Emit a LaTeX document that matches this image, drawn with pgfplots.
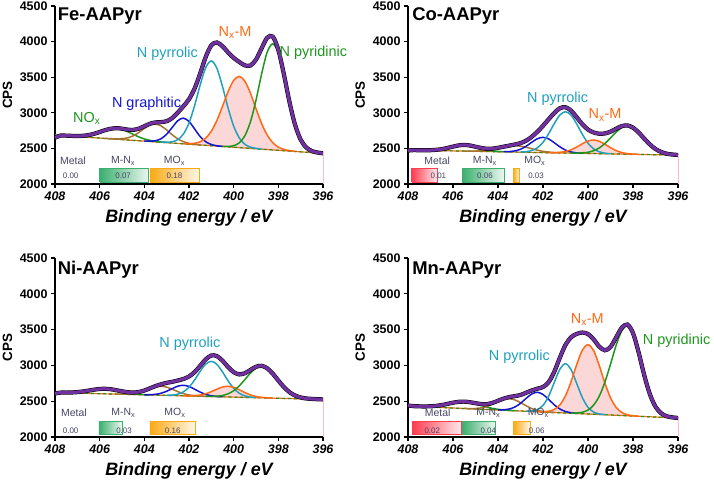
\documentclass[border=0pt]{standalone}
\usepackage{pgfplots}
\pgfplotsset{compat=1.18}
\usepackage{fontspec}
\setmainfont{Liberation Sans}
\newcommand\fs[1]{\fontsize{#1}{#1}\selectfont}
\definecolor{cpurple}{RGB}{112,48,160}
\definecolor{ccyan}{RGB}{30,160,190}
\definecolor{corange}{RGB}{255,105,20}
\definecolor{cgreen}{RGB}{30,150,30}
\definecolor{cblue}{RGB}{20,20,210}
\definecolor{cbrown}{RGB}{165,115,50}
\definecolor{cpink}{RGB}{252,215,215}
\definecolor{cedge}{RGB}{250,190,200}
\definecolor{cgrey}{RGB}{70,70,100}
\definecolor{bred}{RGB}{255,60,80}
\definecolor{bgreen}{RGB}{60,175,110}
\definecolor{borange}{RGB}{250,170,20}
\pgfplotsset{
  panel/.style={
    scale only axis, x dir=reverse,
    xmin=396, xmax=408, ymin=2000, ymax=4500,
    xtick={396,398,400,402,404,406,408},
    ytick={2000,2500,3000,3500,4000,4500},
    axis x line*=bottom, axis y line*=left,
    tick align=outside, major tick length=4bp,
    axis line style={line width=1.5bp},
    every tick/.style={line width=1.3bp, black},
    /pgf/number format/assume math mode=true,
    /pgf/number format/1000 sep={},
    xticklabel style={font=\fs{12.5}\bfseries\itshape},
    yticklabel style={font=\fs{12.5}\bfseries},
    xlabel={Binding energy / eV}, ylabel={CPS},
    every axis x label/.style={at={(axis description cs:0.5,0)}, anchor=center, yshift=-34bp, font=\fs{18}\bfseries\itshape},
    every axis y label/.style={at={(axis description cs:-0.177,0.5)}, anchor=center, rotate=90, font=\fs{13.5}\bfseries},
    clip=false,
  },
  comp/.style={smooth, line width=1.5bp},
  env/.style={smooth, cpurple, line width=3.2bp, preaction={draw, black, line width=4.2bp}},
  base1/.style={corange, line width=1.2bp},
  base2/.style={cgreen, line width=1.2bp, dashed},
}
\tikzset{
  ttl/.style={font=\fs{18.5}\bfseries, anchor=base west, inner sep=0pt},
  lab/.style={font=\fs{14.5}},
  inl/.style={font=\fs{10.5}, text=cgrey},
  inv/.style={font=\fs{8}, text=cgrey},
}
\begin{document}
\begin{tikzpicture}
%================ Fe =================
\begin{axis}[panel, width=268bp, height=178bp, at={(55bp,296bp)}, anchor=south west]
\draw[cedge, line width=0.8bp] (axis cs:396,2000) -- (axis cs:396,2420);
\addplot[fill=cpink, draw=none] coordinates {(402.25,2567)(402,2566)(401.75,2572)(401.5,2593)(401.25,2645)(401,2742)(400.75,2893)(400.5,3091)(400.25,3297)(400,3455)(399.75,3512)(399.5,3444)(399.25,3276)(399,3059)(398.75,2850)(398.5,2688)(398.25,2580)(398,2518)(397.75,2486)(397.5,2469)(397.25,2460)};
\addplot[base1] coordinates {(408,2688)(396,2430)};
\addplot[base2] coordinates {(408,2688)(396,2430)};
\addplot[comp, cgreen] coordinates {(407.75,2683)(407.5,2679)(407.25,2676)(407,2674)(406.75,2677)(406.5,2687)(406.25,2705)(406,2730)(405.75,2757)(405.5,2776)(405.25,2780)(405,2766)(404.75,2735)(404.5,2698)(404.25,2662)(404,2633)(403.75,2613)(403.5,2599)(403.25,2590)(403,2583)};
\addplot[comp, cbrown] coordinates {(405.75,2641)(405.5,2636)(405.25,2634)(405,2636)(404.75,2648)(404.5,2676)(404.25,2723)(404,2780)(403.75,2827)(403.5,2842)(403.25,2816)(403,2759)(402.75,2691)(402.5,2633)(402.25,2594)(402,2571)(401.75,2559)(401.5,2550)};
\addplot[comp, cblue] coordinates {(404,2604)(403.75,2602)(403.5,2608)(403.25,2636)(403,2699)(402.75,2795)(402.5,2889)(402.25,2925)(402,2878)(401.75,2774)(401.5,2666)(401.25,2593)(401,2555)(400.75,2537)(400.5,2529)};
\addplot[comp, ccyan] coordinates {(403.25,2588)(403,2587)(402.75,2593)(402.5,2623)(402.25,2701)(402,2856)(401.75,3100)(401.5,3390)(401.25,3635)(401,3729)(400.75,3624)(400.5,3369)(400.25,3067)(400,2813)(399.75,2648)(399.5,2558)(399.25,2518)(399,2501)(398.75,2491)};
\addplot[comp, corange] coordinates {(402.25,2567)(402,2566)(401.75,2572)(401.5,2593)(401.25,2645)(401,2742)(400.75,2893)(400.5,3091)(400.25,3297)(400,3455)(399.75,3512)(399.5,3444)(399.25,3276)(399,3059)(398.75,2850)(398.5,2688)(398.25,2580)(398,2518)(397.75,2486)(397.5,2469)(397.25,2460)};
\addplot[comp, cgreen] coordinates {(400.5,2528)(400.25,2528)(400,2538)(399.75,2578)(399.5,2676)(399.25,2872)(399,3178)(398.75,3543)(398.5,3851)(398.25,3969)(398,3840)(397.75,3522)(397.5,3145)(397.25,2829)(397,2623)(396.75,2513)(396.5,2463)(396.25,2442)(396,2431)};
\addplot[env] coordinates {(408,2650)(407.75,2680)(407.5,2679)(407.25,2676)(407,2674)(406.75,2677)(406.5,2687)(406.25,2705)(406,2730)(405.75,2757)(405.5,2776)(405.25,2784)(405,2777)(404.75,2764)(404.5,2760)(404.25,2777)(404,2811)(403.75,2846)(403.5,2865)(403.25,2869)(403,2882)(402.75,2927)(402.5,3004)(402.25,3092)(402,3191)(401.75,3340)(401.5,3552)(401.25,3785)(401,3948)(400.75,3988)(400.5,3934)(400.25,3848)(400,3772)(399.75,3714)(399.5,3666)(399.25,3664)(399,3746)(398.75,3904)(398.5,4054)(398.25,4070)(398,3884)(397.75,3539)(397.5,3151)(397.25,2831)(397,2623)(396.75,2513)(396.5,2463)(396.25,2442)(396,2431)};
% inset
\addplot[draw=bgreen, line width=0.6bp, left color=bgreen, right color=bgreen!10] coordinates {(406,2030)(403.8,2030)(403.8,2220)(406,2220)(406,2030)};
\addplot[draw=borange, line width=0.6bp, left color=borange, right color=borange!10] coordinates {(403.75,2030)(401.55,2030)(401.55,2220)(403.75,2220)(403.75,2030)};
\node[inl] at (axis cs:407.2,2323) {Metal};
\node[inl] at (axis cs:404.95,2323) {M-N\textsubscript{x}};
\node[inl] at (axis cs:402.65,2323) {MO\textsubscript{x}};
\node[inv] at (axis cs:407.3,2112) {0.00};
\node[inv] at (axis cs:404.95,2112) {0.07};
\node[inv] at (axis cs:402.65,2112) {0.18};
\node[ttl] at (axis cs:407.88,4290) {Fe-AAPyr};
\node[lab, text=ccyan] at (axis cs:402.97,3835) {N pyrrolic};
\node[lab, text=corange] at (axis cs:399.94,4130) {N\textsubscript{x}-M};
\node[lab, text=cgreen, anchor=west, inner sep=0pt] at (axis cs:397.95,3845) {N pyridinic};
\node[lab, text=cblue] at (axis cs:403.9,3133) {N graphitic};
\node[lab, text=cgreen] at (axis cs:406.58,2922) {NO\textsubscript{x}};
\end{axis}
%================ Co =================
\begin{axis}[panel, width=270bp, height=178bp, at={(408bp,296bp)}, anchor=south west]
\draw[cedge, line width=0.8bp] (axis cs:396,2000) -- (axis cs:396,2400);
\addplot[fill=cpink, draw=none] coordinates {(401.75,2441)(401.5,2441)(401.25,2445)(401,2457)(400.75,2481)(400.5,2519)(400.25,2565)(400,2603)(399.75,2618)(399.5,2600)(399.25,2559)(399,2510)(398.75,2469)(398.5,2442)(398.25,2427)(398,2420)(397.75,2417)};
\addplot[base1] coordinates {(408,2477)(396,2405)};
\addplot[base2] coordinates {(408,2477)(396,2405)};
\addplot[comp, cgreen] coordinates {(407.5,2474)(407.25,2474)(407,2475)(406.75,2480)(406.5,2489)(406.25,2506)(406,2525)(405.75,2542)(405.5,2547)(405.25,2539)(405,2519)(404.75,2497)(404.5,2477)(404.25,2465)(404,2457)(403.75,2453)};
\addplot[comp, cbrown] coordinates {(405.5,2463)(405.25,2463)(405,2463)(404.75,2467)(404.5,2474)(404.25,2487)(404,2504)(403.75,2522)(403.5,2534)(403.25,2539)(403,2531)(402.75,2516)(402.5,2495)(402.25,2475)(402,2459)(401.75,2449)(401.5,2442)(401.25,2439)};
\addplot[comp, cblue] coordinates {(403.75,2453)(403.5,2455)(403.25,2465)(403,2488)(402.75,2531)(402.5,2586)(402.25,2636)(402,2655)(401.75,2633)(401.5,2580)(401.25,2522)(401,2476)(400.75,2450)(400.5,2437)(400.25,2432)};
\addplot[comp, ccyan] coordinates {(403,2449)(402.75,2454)(402.5,2470)(402.25,2509)(402,2585)(401.75,2706)(401.5,2848)(401.25,2969)(401,3015)(400.75,2966)(400.5,2842)(400.25,2697)(400,2573)(399.75,2494)(399.5,2452)(399.25,2433)(399,2425)};
\addplot[comp, corange] coordinates {(401.75,2441)(401.5,2441)(401.25,2445)(401,2457)(400.75,2481)(400.5,2519)(400.25,2565)(400,2603)(399.75,2618)(399.5,2600)(399.25,2559)(399,2510)(398.75,2469)(398.5,2442)(398.25,2427)(398,2420)(397.75,2417)};
\addplot[comp, cgreen] coordinates {(400.75,2435)(400.5,2434)(400.25,2438)(400,2446)(399.75,2468)(399.5,2506)(399.25,2568)(399,2646)(398.75,2729)(398.5,2791)(398.25,2815)(398,2788)(397.75,2723)(397.5,2637)(397.25,2556)(397,2491)(396.75,2450)(396.5,2425)(396.25,2414)(396,2407)};
\addplot[env] coordinates {(408,2470)(407.75,2476)(407.5,2474)(407.25,2474)(407,2475)(406.75,2480)(406.5,2489)(406.25,2506)(406,2525)(405.75,2542)(405.5,2548)(405.25,2541)(405,2523)(404.75,2506)(404.5,2495)(404.25,2497)(404,2508)(403.75,2524)(403.5,2539)(403.25,2555)(403,2574)(402.75,2609)(402.5,2663)(402.25,2734)(402,2817)(401.75,2909)(401.5,2997)(401.25,3064)(401,3078)(400.75,3030)(400.5,2936)(400.25,2839)(400,2764)(399.75,2724)(399.5,2706)(399.25,2710)(399,2735)(398.75,2776)(398.5,2813)(398.25,2823)(398,2791)(397.75,2724)(397.5,2637)(397.25,2556)(397,2491)(396.75,2450)(396.5,2425)(396.25,2414)(396,2407)};
\addplot[draw=bred, line width=0.6bp, left color=bred, right color=bred!10] coordinates {(407.84,2030)(406.72,2030)(406.72,2220)(407.84,2220)(407.84,2030)};
\addplot[draw=bgreen, line width=0.6bp, left color=bgreen, right color=bgreen!10] coordinates {(405.59,2030)(403.73,2030)(403.73,2220)(405.59,2220)(405.59,2030)};
\addplot[draw=borange, line width=0.6bp, left color=borange, right color=borange!10] coordinates {(403.32,2030)(403.05,2030)(403.05,2220)(403.32,2220)(403.32,2030)};
\node[inl] at (axis cs:406.7,2323) {Metal};
\node[inl] at (axis cs:404.58,2323) {M-N\textsubscript{x}};
\node[inl] at (axis cs:402.36,2323) {MO\textsubscript{x}};
\node[inv] at (axis cs:406.65,2112) {0.01};
\node[inv] at (axis cs:404.58,2112) {0.06};
\node[inv] at (axis cs:402.31,2112) {0.03};
\node[ttl] at (axis cs:407.82,4290) {Co-AAPyr};
\node[lab, text=ccyan] at (axis cs:401.35,3193) {N pyrrolic};
\node[lab, text=corange] at (axis cs:399.24,2969) {N\textsubscript{x}-M};
\end{axis}
%================ Ni =================
\begin{axis}[panel, width=268bp, height=179bp, at={(55bp,43bp)}, anchor=south west]
\draw[cedge, line width=0.8bp] (axis cs:396,2000) -- (axis cs:396,2520);
\addplot[fill=cpink, draw=none] coordinates {(402.25,2576)(402,2575)(401.75,2578)(401.5,2586)(401.25,2604)(401,2633)(400.75,2668)(400.5,2698)(400.25,2708)(400,2694)(399.75,2660)(399.5,2621)(399.25,2588)(399,2566)(398.75,2554)(398.5,2547)(398.25,2544)};
\addplot[base1] coordinates {(408,2621)(396,2525)};
\addplot[base2] coordinates {(408,2621)(396,2525)};
\addplot[comp, cgreen] coordinates {(408,2621)(407.75,2620)(407.5,2620)(407.25,2622)(407,2627)(406.75,2636)(406.5,2648)(406.25,2661)(406,2671)(405.75,2673)(405.5,2667)(405.25,2653)(405,2636)(404.75,2620)(404.5,2607)(404.25,2598)(404,2592)(403.75,2588)};
\addplot[comp, cbrown] coordinates {(405.25,2599)(405,2599)(404.75,2601)(404.5,2607)(404.25,2622)(404,2646)(403.75,2675)(403.5,2700)(403.25,2708)(403,2696)(402.75,2667)(402.5,2634)(402.25,2606)(402,2587)(401.75,2577)(401.5,2571)(401.25,2567)};
\addplot[comp, cblue] coordinates {(404,2589)(403.75,2591)(403.5,2596)(403.25,2611)(403,2639)(402.75,2676)(402.5,2710)(402.25,2722)(402,2706)(401.75,2668)(401.5,2627)(401.25,2595)(401,2576)(400.75,2567)(400.5,2562)};
\addplot[comp, ccyan] coordinates {(403,2583)(402.75,2586)(402.5,2599)(402.25,2631)(402,2696)(401.75,2796)(401.5,2917)(401.25,3018)(401,3057)(400.75,3014)(400.5,2909)(400.25,2784)(400,2680)(399.75,2611)(399.5,2575)(399.25,2558)(399,2551)};
\addplot[comp, corange] coordinates {(402.25,2576)(402,2575)(401.75,2578)(401.5,2586)(401.25,2604)(401,2633)(400.75,2668)(400.5,2698)(400.25,2708)(400,2694)(399.75,2660)(399.5,2621)(399.25,2588)(399,2566)(398.75,2554)(398.5,2547)(398.25,2544)};
\addplot[comp, cgreen] coordinates {(401.25,2568)(401,2568)(400.75,2570)(400.5,2580)(400.25,2603)(400,2646)(399.75,2713)(399.5,2801)(399.25,2892)(399,2962)(398.75,2987)(398.5,2958)(398.25,2884)(398,2789)(397.75,2697)(397.5,2626)(397.25,2579)(397,2552)(396.75,2538)(396.5,2532)(396.25,2528)};
\addplot[env] coordinates {(408,2608)(407.75,2620)(407.5,2620)(407.25,2622)(407,2627)(406.75,2636)(406.5,2648)(406.25,2661)(406,2671)(405.75,2673)(405.5,2667)(405.25,2653)(405,2638)(404.75,2626)(404.5,2621)(404.25,2629)(404,2649)(403.75,2680)(403.5,2711)(403.25,2736)(403,2756)(402.75,2771)(402.5,2789)(402.25,2810)(402,2845)(401.75,2906)(401.5,2994)(401.25,3084)(401,3139)(400.75,3130)(400.5,3066)(400.25,2977)(400,2906)(399.75,2874)(399.5,2891)(399.25,2936)(399,2981)(398.75,2994)(398.5,2960)(398.25,2885)(398,2789)(397.75,2697)(397.5,2626)(397.25,2579)(397,2552)(396.75,2538)(396.5,2532)(396.25,2528)(396,2525)};
\addplot[draw=bgreen, line width=0.6bp, left color=bgreen, right color=bgreen!10] coordinates {(406.03,2033)(405.0,2033)(405.0,2219)(406.03,2219)(406.03,2033)};
\addplot[draw=borange, line width=0.6bp, left color=borange, right color=borange!10] coordinates {(403.75,2033)(401.73,2033)(401.73,2219)(403.75,2219)(403.75,2033)};
\node[inl] at (axis cs:407.15,2335) {Metal};
\node[inl] at (axis cs:404.94,2335) {M-N\textsubscript{x}};
\node[inl] at (axis cs:402.63,2335) {MO\textsubscript{x}};
\node[inv] at (axis cs:407.3,2093) {0.00};
\node[inv] at (axis cs:404.91,2093) {0.03};
\node[inv] at (axis cs:402.73,2093) {0.16};
\node[ttl] at (axis cs:407.88,4270) {Ni-AAPyr};
\node[lab, text=ccyan] at (axis cs:401.96,3303) {N pyrrolic};
\end{axis}
%================ Mn =================
\begin{axis}[panel, width=270bp, height=179bp, at={(408bp,43bp)}, anchor=south west]
\draw[cedge, line width=0.8bp] (axis cs:396,2000) -- (axis cs:396,2260);
\addplot[fill=cpink, draw=none] coordinates {(402.25,2354)(402,2353)(401.75,2360)(401.5,2385)(401.25,2449)(401,2576)(400.75,2776)(400.5,3013)(400.25,3214)(400,3290)(399.75,3207)(399.5,2999)(399.25,2755)(399,2548)(398.75,2414)(398.5,2343)(398.25,2311)(398,2297)(397.75,2291)};
\addplot[base1] coordinates {(408,2433)(396,2265)};
\addplot[base2] coordinates {(408,2433)(396,2265)};
\addplot[comp, cgreen] coordinates {(408,2433)(407.75,2431)(407.5,2428)(407.25,2427)(407,2429)(406.75,2435)(406.5,2446)(406.25,2462)(406,2479)(405.75,2491)(405.5,2493)(405.25,2484)(405,2465)(404.75,2441)(404.5,2418)(404.25,2400)(404,2387)(403.75,2378)(403.5,2372)(403.25,2368)};
\addplot[comp, cbrown] coordinates {(405.5,2399)(405.25,2397)(405,2398)(404.75,2407)(404.5,2425)(404.25,2457)(404,2494)(403.75,2525)(403.5,2535)(403.25,2518)(403,2480)(402.75,2436)(402.5,2397)(402.25,2372)(402,2356)(401.75,2348)(401.5,2343)};
\addplot[comp, cblue] coordinates {(404,2379)(403.75,2381)(403.5,2391)(403.25,2419)(403,2470)(402.75,2540)(402.5,2601)(402.25,2625)(402,2594)(401.75,2526)(401.5,2449)(401.25,2391)(401,2356)(400.75,2339)(400.5,2330)};
\addplot[comp, ccyan] coordinates {(402.75,2362)(402.5,2364)(402.25,2383)(402,2442)(401.75,2570)(401.5,2760)(401.25,2947)(401,3024)(400.75,2940)(400.5,2746)(400.25,2549)(400,2414)(399.75,2348)(399.5,2322)(399.25,2313)};
\addplot[comp, corange] coordinates {(402.25,2354)(402,2353)(401.75,2360)(401.5,2385)(401.25,2449)(401,2576)(400.75,2776)(400.5,3013)(400.25,3214)(400,3290)(399.75,3207)(399.5,2999)(399.25,2755)(399,2548)(398.75,2414)(398.5,2343)(398.25,2311)(398,2297)(397.75,2291)};
\addplot[comp, cgreen] coordinates {(400.75,2334)(400.5,2335)(400.25,2346)(400,2376)(399.75,2445)(399.5,2570)(399.25,2765)(399,3016)(398.75,3281)(398.5,3482)(398.25,3557)(398,3448)(397.75,3181)(397.5,2863)(397.25,2597)(397,2423)(396.75,2331)(396.5,2290)(396.25,2274)(396,2266)};
\addplot[env] coordinates {(408,2440)(407.75,2431)(407.5,2428)(407.25,2427)(407,2429)(406.75,2435)(406.5,2446)(406.25,2462)(406,2479)(405.75,2491)(405.5,2494)(405.25,2486)(405,2472)(404.75,2460)(404.5,2459)(404.25,2476)(404,2506)(403.75,2536)(403.5,2558)(403.25,2571)(403,2587)(402.75,2618)(402.5,2650)(402.25,2675)(402,2698)(401.75,2766)(401.5,2911)(401.25,3109)(401,3287)(400.75,3393)(400.5,3440)(400.25,3459)(400,3438)(399.75,3364)(399.5,3263)(399.25,3211)(399,3257)(398.75,3391)(398.5,3525)(398.25,3571)(398,3452)(397.75,3182)(397.5,2863)(397.25,2597)(397,2423)(396.75,2331)(396.5,2290)(396.25,2274)(396,2266)};
\addplot[draw=bred, line width=0.6bp, left color=bred, right color=bred!10] coordinates {(407.81,2033)(405.61,2033)(405.61,2219)(407.81,2219)(407.81,2033)};
\addplot[draw=bgreen, line width=0.6bp, left color=bgreen, right color=bgreen!10] coordinates {(405.59,2033)(404.13,2033)(404.13,2219)(405.59,2219)(405.59,2033)};
\addplot[draw=borange, line width=0.6bp, left color=borange, right color=borange!10] coordinates {(403.32,2033)(402.58,2033)(402.58,2219)(403.32,2219)(403.32,2033)};
\node[inl] at (axis cs:406.68,2335) {Metal};
\node[inl] at (axis cs:404.43,2335) {M-N\textsubscript{x}};
\node[inl] at (axis cs:402.21,2335) {MO\textsubscript{x}};
\node[inv] at (axis cs:406.92,2093) {0.02};
\node[inv] at (axis cs:404.43,2093) {0.04};
\node[inv] at (axis cs:402.28,2093) {0.06};
\node[ttl] at (axis cs:407.82,4270) {Mn-AAPyr};
\node[lab, text=ccyan] at (axis cs:403.05,3126) {N pyrrolic};
\node[lab, text=corange] at (axis cs:400.03,3639) {N\textsubscript{x}-M};
\node[lab, text=cgreen, anchor=west, inner sep=0pt] at (axis cs:397.57,3345) {N pyridinic};
\end{axis}
\pgfresetboundingbox
\path[use as bounding box] (0,0) rectangle (714bp,480bp);
\end{tikzpicture}
\end{document}
